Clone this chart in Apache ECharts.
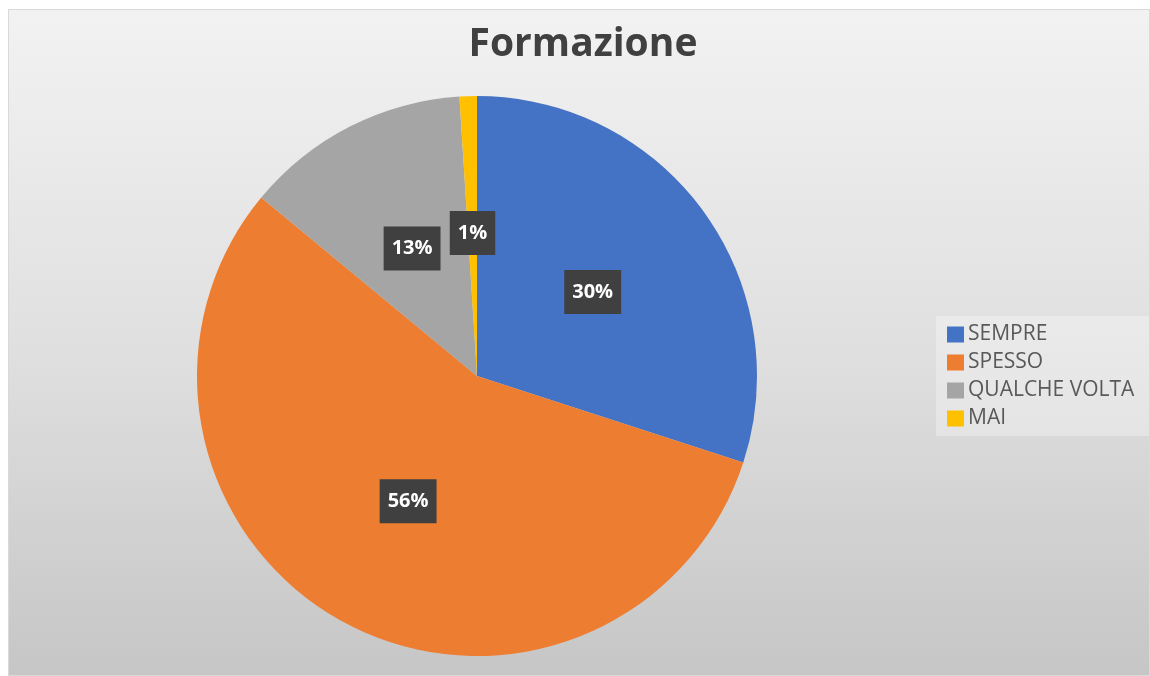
<!DOCTYPE html>
<html lang="it">
<head>
  <meta charset="UTF-8">
  <title>Formazione</title>
  <script src="https://cdn.jsdelivr.net/npm/echarts@6/dist/echarts.min.js"></script>
  <style>
    body { margin: 0; background: #fff; }
    #chart { position: absolute; left: 8px; top: 9px; width: 1142px; height: 667px; box-sizing: border-box; border: 1px solid #d9d9d9; }
  </style>
</head>
<body>
<div id="chart"></div>
<script>
  // categorie e valori (percentuali)
  const categorie = ['SEMPRE', 'SPESSO', 'QUALCHE VOLTA', 'MAI']
  const valori = [30, 56, 13, 1]
  const colori = ['#4472C4', '#ED7D31', '#A5A5A5', '#FFC000']

  let myChart = echarts.init(document.getElementById('chart'))
  let option = {
    // sfondo sfumato dal chiaro (alto) al grigio (basso)
    backgroundColor: {
      type: 'linear', x: 0, y: 0, x2: 0, y2: 1,
      colorStops: [
        { offset: 0, color: '#f2f2f2' },
        { offset: 0.5, color: '#e0e0e0' },
        { offset: 1, color: '#c6c6c6' }
      ]
    },
    color: colori,
    title: {
      text: 'Formazione',
      left: 569,
      textAlign: 'center',
      top: 10,
      textStyle: { fontFamily: 'Open Sans', fontSize: 39, fontWeight: 'bold', color: '#404040' }
    },
    legend: {
      orient: 'vertical',
      left: 927,
      top: 306,
      padding: [8, 20, 7, 11],
      backgroundColor: 'rgba(255,255,255,0.3)',
      itemWidth: 17,
      itemHeight: 16,
      itemGap: 7,
      icon: 'rect',
      textStyle: { fontFamily: 'Open Sans', fontSize: 21, lineHeight: 21, color: '#595959', padding: [0, 0, 0, -1] },
      data: categorie
    },
    series: [{
      type: 'pie',
      center: [468, 366],
      radius: 280,
      startAngle: 90,
      clockwise: true,
      label: {
        show: true,
        position: 'inside',
        formatter: '{d}%',
        fontFamily: 'Open Sans',
        fontSize: 20,
        lineHeight: 20,
        fontWeight: 'bold',
        color: '#fff',
        backgroundColor: '#404040',
        padding: [12, 8]
      },
      labelLine: { show: false },
      emphasis: { disabled: true },
      data: categorie.map((c, i) => ({ name: c, value: valori[i] }))
    }]
  }
  myChart.setOption(option)
</script>
</body>
</html>
